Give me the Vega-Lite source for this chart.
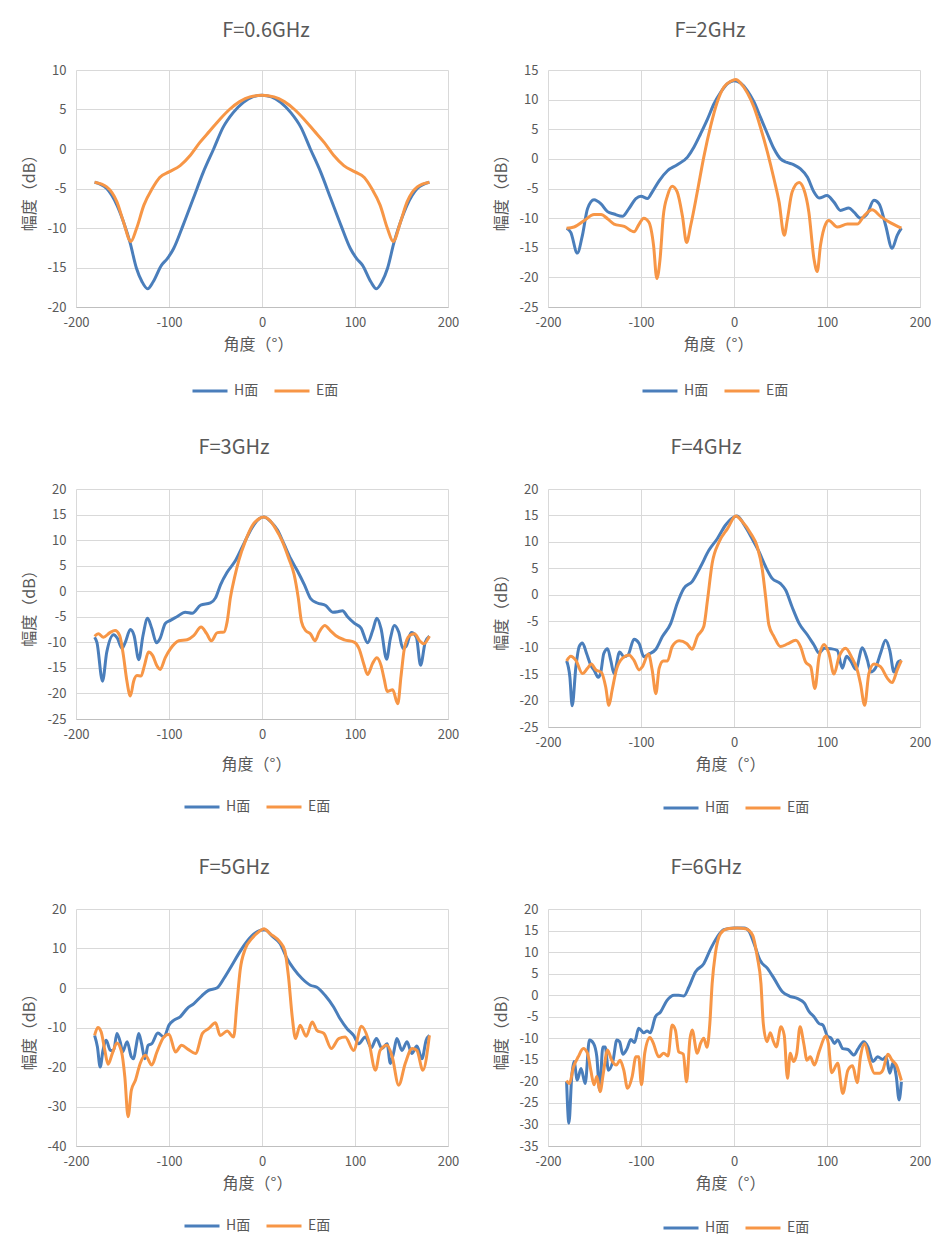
{
  "$schema": "https://vega.github.io/schema/vega-lite/v6.json",
  "background": "white",
  "padding": {"left": 21, "top": 21, "right": 0, "bottom": 0},
  "columns": 2,
  "spacing": {"row": 182, "column": 100},
  "bounds": "flush",
  "resolve": {"scale": {"color": "independent"}},
  "config": {
    "font": "Noto Sans CJK SC",
    "locale": {"number": {"decimal": ".", "thousands": ",", "grouping": [3], "currency": ["", ""], "minus": "-"}},
    "view": {"stroke": null},
    "line": {"strokeWidth": 3, "interpolate": "monotone"},
    "title": {"fontSize": 20, "fontWeight": "normal", "color": "#595959", "offset": 23, "anchor": "middle", "frame": "group"},
    "axis": {"gridColor": "#D9D9D9", "gridWidth": 1, "domain": false, "ticks": false, "tickSize": 0, "labelColor": "#595959", "labelFontSize": 13, "labelFlush": false, "titleColor": "#595959", "titleFontWeight": "normal"},
    "axisX": {"domain": true, "domainColor": "#BFBFBF", "labelPadding": 9, "titleFontSize": 16, "titlePadding": 7},
    "axisY": {"labelPadding": 10, "titleFontSize": 16, "titlePadding": 9, "minExtent": 30, "maxExtent": 30},
    "legend": {"orient": "none", "direction": "horizontal", "symbolType": "stroke", "symbolSize": 1225, "symbolStrokeWidth": 3, "labelFontSize": 14, "labelColor": "#595959", "labelOffset": 5, "columnPadding": 9, "padding": 0}
  },
  "datasets": {
    "p1": [
      {"s":"H面","a":-180,"v":-4.2},{"s":"H面","a":-167,"v":-5.0},{"s":"H面","a":-156,"v":-7.1},{"s":"H面","a":-149,"v":-9.2},{"s":"H面","a":-142,"v":-11.8},{"s":"H面","a":-135,"v":-15.1},{"s":"H面","a":-129,"v":-16.8},{"s":"H面","a":-123,"v":-17.7},{"s":"H面","a":-117,"v":-16.8},{"s":"H面","a":-108,"v":-14.7},{"s":"H面","a":-102,"v":-13.9},{"s":"H面","a":-95,"v":-12.6},{"s":"H面","a":-85,"v":-9.7},{"s":"H面","a":-74,"v":-6.3},{"s":"H面","a":-63,"v":-2.9},{"s":"H面","a":-52,"v":0},{"s":"H面","a":-42,"v":2.7},{"s":"H面","a":-31,"v":4.6},{"s":"H面","a":-20,"v":5.9},{"s":"H面","a":-10,"v":6.6},{"s":"H面","a":0,"v":6.8},
      {"s":"H面","a":10,"v":6.6},{"s":"H面","a":20,"v":5.9},{"s":"H面","a":31,"v":4.6},{"s":"H面","a":42,"v":2.7},{"s":"H面","a":52,"v":0},{"s":"H面","a":63,"v":-2.9},{"s":"H面","a":74,"v":-6.3},{"s":"H面","a":85,"v":-9.7},{"s":"H面","a":95,"v":-12.6},{"s":"H面","a":102,"v":-13.9},{"s":"H面","a":108,"v":-14.7},{"s":"H面","a":117,"v":-16.8},{"s":"H面","a":123,"v":-17.7},{"s":"H面","a":129,"v":-16.8},{"s":"H面","a":135,"v":-15.1},{"s":"H面","a":142,"v":-11.8},{"s":"H面","a":149,"v":-9.2},{"s":"H面","a":156,"v":-7.1},{"s":"H面","a":167,"v":-5.0},{"s":"H面","a":180,"v":-4.2},
      {"s":"E面","a":-180,"v":-4.2},{"s":"E面","a":-167,"v":-4.8},{"s":"E面","a":-156,"v":-6.7},{"s":"E面","a":-149,"v":-9.2},{"s":"E面","a":-141,"v":-11.7},{"s":"E面","a":-135,"v":-10.1},{"s":"E面","a":-127,"v":-7.1},{"s":"E面","a":-118,"v":-5.0},{"s":"E面","a":-110,"v":-3.6},{"s":"E面","a":-100,"v":-2.9},{"s":"E面","a":-88,"v":-2.1},{"s":"E面","a":-77,"v":-0.8},{"s":"E面","a":-67,"v":0.8},{"s":"E面","a":-56,"v":2.3},{"s":"E面","a":-45,"v":3.8},{"s":"E面","a":-35,"v":5.0},{"s":"E面","a":-24,"v":6.0},{"s":"E面","a":-13,"v":6.6},{"s":"E面","a":0,"v":6.8},
      {"s":"E面","a":13,"v":6.6},{"s":"E面","a":24,"v":6.0},{"s":"E面","a":35,"v":5.0},{"s":"E面","a":45,"v":3.8},{"s":"E面","a":56,"v":2.3},{"s":"E面","a":67,"v":0.8},{"s":"E面","a":77,"v":-0.8},{"s":"E面","a":88,"v":-2.1},{"s":"E面","a":100,"v":-2.9},{"s":"E面","a":110,"v":-3.6},{"s":"E面","a":118,"v":-5.0},{"s":"E面","a":127,"v":-7.1},{"s":"E面","a":135,"v":-10.1},{"s":"E面","a":141,"v":-11.7},{"s":"E面","a":149,"v":-9.2},{"s":"E面","a":156,"v":-6.7},{"s":"E面","a":167,"v":-4.8},{"s":"E面","a":180,"v":-4.2}
    ],
    "p2": [
      {"s":"H面","a":-180,"v":-11.7},{"s":"H面","a":-175.5,"v":-12.4},{"s":"H面","a":-168.5,"v":-15.9},{"s":"H面","a":-163,"v":-12.9},{"s":"H面","a":-157.5,"v":-8.4},{"s":"H面","a":-150.5,"v":-6.9},{"s":"H面","a":-143,"v":-7.6},{"s":"H面","a":-136,"v":-8.9},{"s":"H面","a":-129,"v":-9.3},{"s":"H面","a":-120,"v":-9.7},{"s":"H面","a":-113,"v":-8.4},{"s":"H面","a":-105.5,"v":-6.7},{"s":"H面","a":-100,"v":-6.3},{"s":"H面","a":-93,"v":-6.7},{"s":"H面","a":-88,"v":-5.6},{"s":"H面","a":-80.5,"v":-3.7},{"s":"H面","a":-71.5,"v":-2.0},{"s":"H面","a":-61,"v":-1.0},{"s":"H面","a":-50,"v":0.3},{"s":"H面","a":-43,"v":2.0},{"s":"H面","a":-36,"v":4.2},{"s":"H面","a":-28.5,"v":6.7},{"s":"H面","a":-21.5,"v":9.3},{"s":"H面","a":-14.5,"v":11.2},{"s":"H面","a":-7,"v":12.7},{"s":"H面","a":0,"v":13.2},{"s":"H面","a":7,"v":12.8},{"s":"H面","a":14.5,"v":11.5},{"s":"H面","a":21.5,"v":9.6},{"s":"H面","a":28.5,"v":7.0},{"s":"H面","a":36,"v":4.2},{"s":"H面","a":43,"v":1.7},{"s":"H面","a":50,"v":0},{"s":"H面","a":57,"v":-0.6},{"s":"H面","a":64.5,"v":-1.0},{"s":"H面","a":71.5,"v":-1.7},{"s":"H面","a":79,"v":-3.1},{"s":"H面","a":86,"v":-5.6},{"s":"H面","a":91.5,"v":-6.6},{"s":"H面","a":100,"v":-6.2},{"s":"H面","a":107.5,"v":-7.3},{"s":"H面","a":114.5,"v":-8.7},{"s":"H面","a":123.5,"v":-8.3},{"s":"H面","a":129,"v":-9.0},{"s":"H面","a":136,"v":-10.0},{"s":"H面","a":143,"v":-9.3},{"s":"H面","a":150.5,"v":-7.0},{"s":"H面","a":156,"v":-7.6},{"s":"H面","a":163,"v":-11.2},{"s":"H面","a":170,"v":-15.1},{"s":"H面","a":175.5,"v":-12.9},{"s":"H面","a":180,"v":-11.7},
      {"s":"E面","a":-180,"v":-11.7},{"s":"E面","a":-172,"v":-11.5},{"s":"E面","a":-161,"v":-10.4},{"s":"E面","a":-150.5,"v":-9.4},{"s":"E面","a":-143,"v":-9.4},{"s":"E面","a":-136,"v":-10.1},{"s":"E面","a":-129,"v":-11.0},{"s":"E面","a":-118,"v":-11.4},{"s":"E面","a":-107.5,"v":-12.3},{"s":"E面","a":-102,"v":-11.0},{"s":"E面","a":-97,"v":-10.0},{"s":"E面","a":-91.5,"v":-10.7},{"s":"E面","a":-86.5,"v":-14.6},{"s":"E面","a":-83,"v":-20.2},{"s":"E面","a":-79.5,"v":-16.9},{"s":"E面","a":-76,"v":-9.6},{"s":"E面","a":-71.5,"v":-6.2},{"s":"E面","a":-66.5,"v":-4.6},{"s":"E面","a":-61,"v":-5.6},{"s":"E面","a":-55.5,"v":-9.6},{"s":"E面","a":-51,"v":-14.1},{"s":"E面","a":-46.5,"v":-11.2},{"s":"E面","a":-39.5,"v":-5.6},{"s":"E面","a":-32.5,"v":0.3},{"s":"E面","a":-25,"v":5.6},{"s":"E面","a":-18,"v":9.6},{"s":"E面","a":-11,"v":12.1},{"s":"E面","a":-3.5,"v":13.1},{"s":"E面","a":2,"v":13.4},{"s":"E面","a":7,"v":12.8},{"s":"E面","a":14.5,"v":11.1},{"s":"E面","a":21.5,"v":8.7},{"s":"E面","a":28.5,"v":5.3},{"s":"E面","a":36,"v":1.1},{"s":"E面","a":43,"v":-3.4},{"s":"E面","a":48.5,"v":-7.3},{"s":"E面","a":54,"v":-12.9},{"s":"E面","a":57.5,"v":-10.1},{"s":"E面","a":62.5,"v":-5.6},{"s":"E面","a":70,"v":-4.0},{"s":"E面","a":75,"v":-5.1},{"s":"E面","a":80.5,"v":-9.0},{"s":"E面","a":86,"v":-16.9},{"s":"E面","a":89.5,"v":-19.0},{"s":"E面","a":93,"v":-14.6},{"s":"E面","a":98.5,"v":-11.0},{"s":"E面","a":102,"v":-10.4},{"s":"E面","a":111,"v":-11.5},{"s":"E面","a":122,"v":-11.0},{"s":"E面","a":132.5,"v":-11.0},{"s":"E面","a":140,"v":-9.6},{"s":"E面","a":148.5,"v":-8.6},{"s":"E面","a":157.5,"v":-9.7},{"s":"E面","a":168.5,"v":-10.8},{"s":"E面","a":180,"v":-11.7}
    ],
    "p3": [
      {"s":"H面","a":-180,"v":-9.0},{"s":"H面","a":-177.5,"v":-10.0},{"s":"H面","a":-171.5,"v":-17.6},{"s":"H面","a":-167,"v":-12.0},{"s":"H面","a":-159.5,"v":-8.5},{"s":"H面","a":-155.5,"v":-9.2},{"s":"H面","a":-150.5,"v":-11.2},{"s":"H面","a":-147,"v":-10.0},{"s":"H面","a":-141.5,"v":-7.5},{"s":"H面","a":-137.5,"v":-8.7},{"s":"H面","a":-132.5,"v":-13.4},{"s":"H面","a":-128,"v":-8.7},{"s":"H面","a":-123,"v":-5.3},{"s":"H面","a":-118.5,"v":-7.3},{"s":"H面","a":-113.5,"v":-10.1},{"s":"H面","a":-109.5,"v":-9.2},{"s":"H面","a":-104,"v":-6.3},{"s":"H面","a":-98.5,"v":-5.7},{"s":"H面","a":-91.5,"v":-5.0},{"s":"H面","a":-82.5,"v":-4.1},{"s":"H面","a":-75,"v":-4.3},{"s":"H面","a":-66,"v":-2.7},{"s":"H面","a":-55.5,"v":-2.3},{"s":"H面","a":-50,"v":-1.3},{"s":"H面","a":-44.5,"v":1.3},{"s":"H面","a":-37.5,"v":3.7},{"s":"H面","a":-28.5,"v":6.0},{"s":"H面","a":-19.5,"v":9.3},{"s":"H面","a":-10.5,"v":12.5},{"s":"H面","a":-3,"v":14.2},{"s":"H面","a":2,"v":14.5},{"s":"H面","a":9.5,"v":13.6},{"s":"H面","a":16.5,"v":12.0},{"s":"H面","a":23.5,"v":9.3},{"s":"H面","a":31,"v":6.3},{"s":"H面","a":38,"v":4.0},{"s":"H面","a":45.5,"v":1.3},{"s":"H面","a":52.5,"v":-1.5},{"s":"H面","a":59.5,"v":-2.3},{"s":"H面","a":68.5,"v":-2.8},{"s":"H面","a":76,"v":-4.1},{"s":"H面","a":81.5,"v":-4.0},{"s":"H面","a":86.5,"v":-3.8},{"s":"H面","a":92,"v":-5.0},{"s":"H面","a":99.5,"v":-6.3},{"s":"H面","a":106.5,"v":-7.2},{"s":"H面","a":113.5,"v":-10.1},{"s":"H面","a":119,"v":-7.7},{"s":"H面","a":123.5,"v":-5.3},{"s":"H面","a":128,"v":-7.3},{"s":"H面","a":134,"v":-13.3},{"s":"H面","a":138,"v":-9.3},{"s":"H面","a":142.5,"v":-6.7},{"s":"H面","a":147,"v":-8.0},{"s":"H面","a":151.5,"v":-11.2},{"s":"H面","a":155,"v":-10.8},{"s":"H面","a":160.5,"v":-8.1},{"s":"H面","a":166,"v":-9.0},{"s":"H面","a":170.5,"v":-14.5},{"s":"H面","a":175.5,"v":-10.0},{"s":"H面","a":180,"v":-8.8},
      {"s":"E面","a":-180,"v":-8.8},{"s":"E面","a":-176,"v":-8.3},{"s":"E面","a":-170.5,"v":-9.0},{"s":"E面","a":-163.5,"v":-8.1},{"s":"E面","a":-158,"v":-7.7},{"s":"E面","a":-153,"v":-8.7},{"s":"E面","a":-149,"v":-12.6},{"s":"E面","a":-145.5,"v":-17.3},{"s":"E面","a":-141.5,"v":-20.5},{"s":"E面","a":-138,"v":-17.6},{"s":"E面","a":-134.5,"v":-16.5},{"s":"E面","a":-130,"v":-16.6},{"s":"E面","a":-126.5,"v":-14.6},{"s":"E面","a":-122,"v":-11.9},{"s":"E面","a":-117.5,"v":-12.6},{"s":"E面","a":-113,"v":-14.6},{"s":"E面","a":-109.5,"v":-15.3},{"s":"E面","a":-104,"v":-13.0},{"s":"E面","a":-98.5,"v":-11.3},{"s":"E面","a":-89.5,"v":-9.7},{"s":"E面","a":-80.5,"v":-9.5},{"s":"E面","a":-73.5,"v":-8.7},{"s":"E面","a":-65.5,"v":-7.0},{"s":"E面","a":-59.5,"v":-8.3},{"s":"E面","a":-54.5,"v":-9.7},{"s":"E面","a":-48,"v":-8.1},{"s":"E面","a":-41,"v":-8.0},{"s":"E面","a":-37.5,"v":-6.0},{"s":"E面","a":-34,"v":-1.3},{"s":"E面","a":-29.5,"v":2.7},{"s":"E面","a":-25,"v":6.0},{"s":"E面","a":-17.5,"v":10.0},{"s":"E面","a":-10.5,"v":12.8},{"s":"E面","a":-3,"v":14.2},{"s":"E面","a":2,"v":14.5},{"s":"E面","a":7.5,"v":14.0},{"s":"E面","a":14.5,"v":12.3},{"s":"E面","a":22,"v":9.7},{"s":"E面","a":29,"v":6.3},{"s":"E面","a":34.5,"v":3.3},{"s":"E面","a":39,"v":-1.3},{"s":"E面","a":42.5,"v":-6.0},{"s":"E面","a":47,"v":-7.7},{"s":"E面","a":52,"v":-8.3},{"s":"E面","a":57,"v":-9.7},{"s":"E面","a":61.5,"v":-8.0},{"s":"E面","a":67.5,"v":-6.7},{"s":"E面","a":73.5,"v":-7.7},{"s":"E面","a":79.5,"v":-8.7},{"s":"E面","a":88.5,"v":-9.5},{"s":"E面","a":99.5,"v":-10.0},{"s":"E面","a":104.5,"v":-11.3},{"s":"E面","a":109.5,"v":-14.3},{"s":"E面","a":113.5,"v":-16.3},{"s":"E面","a":119,"v":-14.1},{"s":"E面","a":123.5,"v":-13.0},{"s":"E面","a":128,"v":-14.5},{"s":"E面","a":131.5,"v":-17.3},{"s":"E面","a":134.5,"v":-19.6},{"s":"E面","a":140.5,"v":-19.3},{"s":"E面","a":146,"v":-22.0},{"s":"E面","a":149.5,"v":-16.6},{"s":"E面","a":153,"v":-11.3},{"s":"E面","a":158.5,"v":-8.7},{"s":"E面","a":164,"v":-8.3},{"s":"E面","a":169.5,"v":-9.7},{"s":"E面","a":174,"v":-10.3},{"s":"E面","a":180,"v":-8.8}
    ],
    "p4": [
      {"s":"H面","a":-180,"v":-12.5},{"s":"H面","a":-176.5,"v":-15.5},{"s":"H面","a":-174,"v":-21.0},{"s":"H面","a":-170,"v":-13.6},{"s":"H面","a":-166.5,"v":-9.8},{"s":"H面","a":-163,"v":-9.1},{"s":"H面","a":-158.5,"v":-11.1},{"s":"H面","a":-154,"v":-13.3},{"s":"H面","a":-150,"v":-14.4},{"s":"H面","a":-146,"v":-15.6},{"s":"H面","a":-143.5,"v":-14.9},{"s":"H面","a":-140,"v":-11.1},{"s":"H面","a":-136,"v":-10.2},{"s":"H面","a":-132.5,"v":-12.4},{"s":"H面","a":-129,"v":-14.9},{"s":"H面","a":-123,"v":-10.8},{"s":"H面","a":-118.5,"v":-11.7},{"s":"H面","a":-114,"v":-11.4},{"s":"H面","a":-107.5,"v":-8.4},{"s":"H面","a":-102,"v":-9.2},{"s":"H面","a":-97,"v":-11.7},{"s":"H面","a":-91.5,"v":-11.2},{"s":"H面","a":-84,"v":-10.3},{"s":"H面","a":-77,"v":-7.9},{"s":"H面","a":-68,"v":-5.4},{"s":"H面","a":-61,"v":-1.6},{"s":"H面","a":-54,"v":1.2},{"s":"H面","a":-45,"v":2.5},{"s":"H面","a":-36,"v":5.3},{"s":"H面","a":-27,"v":8.4},{"s":"H面","a":-18,"v":10.6},{"s":"H面","a":-9,"v":13.2},{"s":"H面","a":0,"v":14.7},{"s":"H面","a":3.5,"v":14.9},{"s":"H面","a":11,"v":13.2},{"s":"H面","a":19.5,"v":10.6},{"s":"H面","a":27,"v":8.1},{"s":"H面","a":34,"v":5.3},{"s":"H面","a":41,"v":3.1},{"s":"H面","a":50,"v":2.1},{"s":"H面","a":55.5,"v":0.9},{"s":"H面","a":62.5,"v":-2.3},{"s":"H面","a":70,"v":-5.4},{"s":"H面","a":79,"v":-7.6},{"s":"H面","a":86,"v":-9.5},{"s":"H面","a":91.5,"v":-11.0},{"s":"H面","a":97,"v":-10.1},{"s":"H面","a":104,"v":-10.2},{"s":"H面","a":111,"v":-10.5},{"s":"H面","a":116.5,"v":-13.9},{"s":"H面","a":121,"v":-11.6},{"s":"H面","a":125.5,"v":-12.5},{"s":"H面","a":131,"v":-14.1},{"s":"H面","a":138,"v":-10.0},{"s":"H面","a":143.5,"v":-12.4},{"s":"H面","a":147,"v":-14.6},{"s":"H面","a":152,"v":-13.9},{"s":"H面","a":157.5,"v":-11.1},{"s":"H面","a":163,"v":-8.6},{"s":"H面","a":167.5,"v":-10.5},{"s":"H面","a":172,"v":-14.6},{"s":"H面","a":176.5,"v":-12.7},{"s":"H面","a":180,"v":-12.4},
      {"s":"E面","a":-180,"v":-12.5},{"s":"E面","a":-175.5,"v":-11.6},{"s":"E面","a":-170,"v":-12.4},{"s":"E面","a":-163,"v":-14.9},{"s":"E面","a":-157.5,"v":-13.9},{"s":"E面","a":-153.5,"v":-13.1},{"s":"E面","a":-148.5,"v":-14.2},{"s":"E面","a":-142.5,"v":-14.7},{"s":"E面","a":-138,"v":-17.4},{"s":"E面","a":-134.5,"v":-20.9},{"s":"E面","a":-131,"v":-18.0},{"s":"E面","a":-126.5,"v":-14.2},{"s":"E面","a":-120,"v":-12.0},{"s":"E面","a":-113,"v":-11.4},{"s":"E面","a":-107.5,"v":-12.4},{"s":"E面","a":-102,"v":-14.2},{"s":"E面","a":-98.5,"v":-13.6},{"s":"E面","a":-92,"v":-11.2},{"s":"E面","a":-88,"v":-14.2},{"s":"E面","a":-84,"v":-18.7},{"s":"E面","a":-80.5,"v":-13.9},{"s":"E面","a":-76,"v":-12.5},{"s":"E面","a":-71.5,"v":-12.5},{"s":"E面","a":-66.5,"v":-9.8},{"s":"E面","a":-59,"v":-8.7},{"s":"E面","a":-51,"v":-9.2},{"s":"E面","a":-45,"v":-10.3},{"s":"E面","a":-39.5,"v":-7.9},{"s":"E面","a":-32.5,"v":-6.0},{"s":"E面","a":-28.5,"v":-1.0},{"s":"E面","a":-23.5,"v":5.9},{"s":"E面","a":-16,"v":10.0},{"s":"E面","a":-7,"v":12.5},{"s":"E面","a":2,"v":14.9},{"s":"E面","a":9,"v":13.8},{"s":"E面","a":18,"v":11.6},{"s":"E面","a":25,"v":9.1},{"s":"E面","a":30.5,"v":4.7},{"s":"E面","a":34,"v":-0.4},{"s":"E面","a":37.5,"v":-5.7},{"s":"E面","a":43,"v":-7.9},{"s":"E面","a":50,"v":-9.8},{"s":"E面","a":57.5,"v":-9.3},{"s":"E面","a":66.5,"v":-8.6},{"s":"E面","a":71.5,"v":-9.8},{"s":"E面","a":77,"v":-12.7},{"s":"E面","a":82.5,"v":-13.6},{"s":"E面","a":87,"v":-17.7},{"s":"E面","a":91.5,"v":-11.7},{"s":"E面","a":97,"v":-9.4},{"s":"E面","a":102,"v":-11.1},{"s":"E面","a":107.5,"v":-15.0},{"s":"E面","a":113,"v":-11.7},{"s":"E面","a":120,"v":-10.1},{"s":"E面","a":127,"v":-12.0},{"s":"E面","a":132.5,"v":-14.2},{"s":"E面","a":136,"v":-16.8},{"s":"E面","a":140.5,"v":-20.9},{"s":"E面","a":145,"v":-14.9},{"s":"E面","a":150.5,"v":-13.1},{"s":"E面","a":157.5,"v":-13.6},{"s":"E面","a":165,"v":-15.8},{"s":"E面","a":170,"v":-16.6},{"s":"E面","a":175.5,"v":-14.2},{"s":"E面","a":180,"v":-12.4}
    ],
    "p5": [
      {"s":"H面","a":-180,"v":-12.0},{"s":"H面","a":-177,"v":-14.9},{"s":"H面","a":-174,"v":-20.0},{"s":"H面","a":-171,"v":-15.8},{"s":"H面","a":-167.5,"v":-13.2},{"s":"H面","a":-163,"v":-15.8},{"s":"H面","a":-159.5,"v":-15.8},{"s":"H面","a":-156,"v":-11.5},{"s":"H面","a":-152,"v":-14.1},{"s":"H面","a":-150,"v":-16.2},{"s":"H面","a":-145,"v":-13.6},{"s":"H面","a":-140.5,"v":-17.4},{"s":"H面","a":-138,"v":-17.9},{"s":"H面","a":-135.5,"v":-14.9},{"s":"H面","a":-132.5,"v":-11.5},{"s":"H面","a":-129.5,"v":-14.1},{"s":"H面","a":-126,"v":-17.9},{"s":"H面","a":-122.5,"v":-14.5},{"s":"H面","a":-118.5,"v":-14.1},{"s":"H面","a":-112,"v":-11.4},{"s":"H面","a":-105.5,"v":-12.4},{"s":"H面","a":-100,"v":-9.4},{"s":"H面","a":-95,"v":-8.2},{"s":"H面","a":-88,"v":-7.3},{"s":"H面","a":-80.5,"v":-5.2},{"s":"H面","a":-73.5,"v":-4.0},{"s":"H面","a":-64.5,"v":-1.9},{"s":"H面","a":-57.5,"v":-0.6},{"s":"H面","a":-48.5,"v":0},{"s":"H面","a":-41,"v":2.4},{"s":"H面","a":-32.5,"v":5.7},{"s":"H面","a":-25,"v":8.7},{"s":"H面","a":-18,"v":11.2},{"s":"H面","a":-9,"v":13.6},{"s":"H面","a":0,"v":14.7},{"s":"H面","a":3.5,"v":14.7},{"s":"H面","a":11,"v":13.1},{"s":"H面","a":19.5,"v":11.2},{"s":"H面","a":27,"v":7.4},{"s":"H面","a":34,"v":4.9},{"s":"H面","a":43,"v":2.4},{"s":"H面","a":52,"v":0.7},{"s":"H面","a":59,"v":0.2},{"s":"H面","a":68,"v":-1.9},{"s":"H面","a":77,"v":-4.8},{"s":"H面","a":84,"v":-7.8},{"s":"H面","a":91.5,"v":-10.3},{"s":"H面","a":98.5,"v":-12.0},{"s":"H面","a":104,"v":-14.1},{"s":"H面","a":111,"v":-12.4},{"s":"H面","a":117.5,"v":-15.1},{"s":"H面","a":123,"v":-12.8},{"s":"H面","a":129,"v":-15.3},{"s":"H面","a":134.5,"v":-14.1},{"s":"H面","a":138,"v":-19.1},{"s":"H面","a":141.5,"v":-16.4},{"s":"H面","a":145,"v":-12.8},{"s":"H面","a":150.5,"v":-15.8},{"s":"H面","a":156,"v":-13.6},{"s":"H面","a":161,"v":-16.6},{"s":"H面","a":166.5,"v":-14.7},{"s":"H面","a":172,"v":-17.9},{"s":"H面","a":176.5,"v":-13.2},{"s":"H面","a":180,"v":-12.0},
      {"s":"E面","a":-180,"v":-12.0},{"s":"E面","a":-176.5,"v":-10.0},{"s":"E面","a":-173,"v":-11.1},{"s":"E面","a":-169,"v":-15.8},{"s":"E面","a":-165.5,"v":-19.3},{"s":"E面","a":-161,"v":-16.6},{"s":"E面","a":-156,"v":-13.9},{"s":"E面","a":-151,"v":-16.2},{"s":"E面","a":-147.5,"v":-22.5},{"s":"E面","a":-144,"v":-32.6},{"s":"E面","a":-140.5,"v":-25.9},{"s":"E面","a":-136,"v":-23.3},{"s":"E面","a":-131,"v":-19.1},{"s":"E面","a":-125.5,"v":-17.0},{"s":"E面","a":-118.5,"v":-19.5},{"s":"E面","a":-113,"v":-16.2},{"s":"E面","a":-105.5,"v":-12.4},{"s":"E面","a":-100,"v":-11.7},{"s":"E面","a":-93,"v":-16.2},{"s":"E面","a":-86.5,"v":-14.5},{"s":"E面","a":-79,"v":-15.6},{"s":"E面","a":-71.5,"v":-16.6},{"s":"E面","a":-64,"v":-11.5},{"s":"E面","a":-57.5,"v":-10.3},{"s":"E面","a":-50,"v":-8.8},{"s":"E面","a":-45,"v":-12.0},{"s":"E面","a":-37.5,"v":-10.9},{"s":"E面","a":-30.5,"v":-12.4},{"s":"E面","a":-27,"v":-4.0},{"s":"E面","a":-23.5,"v":4.5},{"s":"E面","a":-18,"v":9.9},{"s":"E面","a":-11,"v":12.5},{"s":"E面","a":-3.5,"v":14.2},{"s":"E面","a":2,"v":15.0},{"s":"E面","a":9,"v":13.7},{"s":"E面","a":19.5,"v":11.6},{"s":"E面","a":24.5,"v":9.5},{"s":"E面","a":28.5,"v":2.8},{"s":"E面","a":32.5,"v":-7.3},{"s":"E面","a":36,"v":-12.8},{"s":"E面","a":41,"v":-9.4},{"s":"E面","a":47.5,"v":-12.2},{"s":"E面","a":54,"v":-8.6},{"s":"E面","a":59,"v":-10.7},{"s":"E面","a":66.5,"v":-11.5},{"s":"E面","a":74.5,"v":-15.3},{"s":"E面","a":82.5,"v":-12.8},{"s":"E面","a":89.5,"v":-12.4},{"s":"E面","a":98.5,"v":-15.8},{"s":"E面","a":107,"v":-9.7},{"s":"E面","a":114.5,"v":-13.2},{"s":"E面","a":122,"v":-20.8},{"s":"E面","a":127,"v":-15.8},{"s":"E面","a":134.5,"v":-14.5},{"s":"E面","a":140,"v":-17.4},{"s":"E面","a":147,"v":-24.6},{"s":"E面","a":154,"v":-19.1},{"s":"E面","a":161.5,"v":-15.3},{"s":"E面","a":166.5,"v":-15.8},{"s":"E面","a":173,"v":-20.8},{"s":"E面","a":180,"v":-12.0}
    ],
    "p6": [
      {"s":"H面","a":-180,"v":-20.1},{"s":"H面","a":-177.5,"v":-29.7},{"s":"H面","a":-174.5,"v":-18.9},{"s":"H面","a":-172,"v":-15.4},{"s":"H面","a":-168.5,"v":-19.7},{"s":"H面","a":-164.5,"v":-17.0},{"s":"H面","a":-160,"v":-20.5},{"s":"H面","a":-155.5,"v":-10.4},{"s":"H面","a":-151,"v":-11.2},{"s":"H面","a":-147.5,"v":-14.3},{"s":"H面","a":-144.5,"v":-22.0},{"s":"H面","a":-141,"v":-12.0},{"s":"H面","a":-138.5,"v":-12.0},{"s":"H面","a":-135,"v":-17.4},{"s":"H面","a":-130,"v":-15.1},{"s":"H面","a":-126,"v":-10.4},{"s":"H面","a":-123,"v":-10.8},{"s":"H面","a":-119.5,"v":-13.7},{"s":"H面","a":-115,"v":-12.4},{"s":"H面","a":-111,"v":-10.3},{"s":"H面","a":-107,"v":-11.0},{"s":"H面","a":-102.5,"v":-7.7},{"s":"H面","a":-97,"v":-8.7},{"s":"H面","a":-93.5,"v":-8.3},{"s":"H面","a":-90,"v":-8.7},{"s":"H面","a":-84.5,"v":-5.0},{"s":"H面","a":-79,"v":-3.9},{"s":"H面","a":-72,"v":-1.2},{"s":"H面","a":-64.5,"v":0},{"s":"H面","a":-59.5,"v":0},{"s":"H面","a":-54,"v":-0.2},{"s":"H面","a":-48.5,"v":1.9},{"s":"H面","a":-41.5,"v":5.4},{"s":"H面","a":-32.5,"v":7.3},{"s":"H面","a":-25,"v":10.8},{"s":"H面","a":-18,"v":13.5},{"s":"H面","a":-11,"v":15.2},{"s":"H面","a":0,"v":15.6},{"s":"H面","a":11,"v":15.6},{"s":"H面","a":16,"v":14.9},{"s":"H面","a":21.5,"v":12.0},{"s":"H面","a":28,"v":8.1},{"s":"H面","a":36,"v":6.2},{"s":"H面","a":43,"v":3.9},{"s":"H面","a":52,"v":0.8},{"s":"H面","a":59.5,"v":-0.2},{"s":"H面","a":68.5,"v":-0.8},{"s":"H面","a":75.5,"v":-1.8},{"s":"H面","a":81,"v":-3.9},{"s":"H面","a":86,"v":-5.0},{"s":"H面","a":91.5,"v":-6.6},{"s":"H面","a":95.5,"v":-6.9},{"s":"H面","a":100.5,"v":-9.5},{"s":"H面","a":104.5,"v":-10.0},{"s":"H面","a":108,"v":-11.2},{"s":"H面","a":111.5,"v":-10.4},{"s":"H面","a":117,"v":-12.4},{"s":"H面","a":122.5,"v":-12.6},{"s":"H面","a":129,"v":-13.9},{"s":"H面","a":133,"v":-12.6},{"s":"H面","a":139.5,"v":-10.8},{"s":"H面","a":144,"v":-12.0},{"s":"H面","a":149.5,"v":-15.4},{"s":"H面","a":154.5,"v":-14.3},{"s":"H面","a":160,"v":-14.9},{"s":"H面","a":163.5,"v":-14.3},{"s":"H面","a":167.5,"v":-18.1},{"s":"H面","a":171,"v":-15.7},{"s":"H面","a":174.5,"v":-18.9},{"s":"H面","a":177.5,"v":-24.3},{"s":"H面","a":180,"v":-20.1},
      {"s":"E面","a":-180,"v":-19.8},{"s":"E面","a":-177,"v":-20.5},{"s":"E面","a":-172.5,"v":-16.6},{"s":"E面","a":-167.5,"v":-14.3},{"s":"E面","a":-162,"v":-12.4},{"s":"E面","a":-157.5,"v":-13.5},{"s":"E面","a":-154,"v":-17.4},{"s":"E面","a":-150.5,"v":-20.8},{"s":"E面","a":-147.5,"v":-18.9},{"s":"E面","a":-144,"v":-22.4},{"s":"E面","a":-140.5,"v":-18.1},{"s":"E面","a":-136,"v":-12.7},{"s":"E面","a":-131.5,"v":-15.1},{"s":"E面","a":-126.5,"v":-16.2},{"s":"E面","a":-122.5,"v":-15.1},{"s":"E面","a":-118.5,"v":-17.4},{"s":"E面","a":-114.5,"v":-21.6},{"s":"E面","a":-109.5,"v":-18.9},{"s":"E面","a":-105.5,"v":-14.3},{"s":"E面","a":-102.5,"v":-14.3},{"s":"E面","a":-99.5,"v":-20.8},{"s":"E面","a":-96,"v":-13.5},{"s":"E面","a":-90.5,"v":-9.8},{"s":"E面","a":-87,"v":-11.0},{"s":"E面","a":-81,"v":-14.3},{"s":"E面","a":-75.5,"v":-13.5},{"s":"E面","a":-71,"v":-14.1},{"s":"E面","a":-66.5,"v":-6.9},{"s":"E面","a":-63,"v":-8.1},{"s":"E面","a":-59.5,"v":-13.1},{"s":"E面","a":-54.5,"v":-13.7},{"s":"E面","a":-51,"v":-20.1},{"s":"E面","a":-47.5,"v":-10.4},{"s":"E面","a":-45,"v":-8.1},{"s":"E面","a":-39.5,"v":-13.5},{"s":"E面","a":-36,"v":-11.2},{"s":"E面","a":-32.5,"v":-10.0},{"s":"E面","a":-29,"v":-12.1},{"s":"E面","a":-26,"v":-6.6},{"s":"E面","a":-23.5,"v":2.7},{"s":"E面","a":-20,"v":9.7},{"s":"E面","a":-14.5,"v":14.3},{"s":"E面","a":-7,"v":15.4},{"s":"E面","a":3.5,"v":15.6},{"s":"E面","a":12.5,"v":15.4},{"s":"E面","a":20,"v":13.9},{"s":"E面","a":25,"v":8.9},{"s":"E面","a":29,"v":2.7},{"s":"E面","a":31.5,"v":-6.6},{"s":"E面","a":35.5,"v":-10.8},{"s":"E面","a":39,"v":-8.7},{"s":"E面","a":42.5,"v":-10.8},{"s":"E面","a":45.5,"v":-12.0},{"s":"E面","a":50.5,"v":-7.3},{"s":"E面","a":54,"v":-9.3},{"s":"E面","a":57.5,"v":-19.3},{"s":"E面","a":60.5,"v":-13.5},{"s":"E面","a":64,"v":-15.4},{"s":"E面","a":67.5,"v":-13.5},{"s":"E面","a":71,"v":-7.3},{"s":"E面","a":75,"v":-11.2},{"s":"E面","a":78.5,"v":-15.1},{"s":"E面","a":82,"v":-14.3},{"s":"E面","a":86.5,"v":-16.2},{"s":"E面","a":91.5,"v":-13.1},{"s":"E面","a":99,"v":-9.5},{"s":"E面","a":101.5,"v":-11.2},{"s":"E面","a":105,"v":-18.0},{"s":"E面","a":111.5,"v":-15.8},{"s":"E面","a":117,"v":-22.8},{"s":"E面","a":122.5,"v":-17.4},{"s":"E面","a":127.5,"v":-16.4},{"s":"E面","a":132.5,"v":-20.3},{"s":"E面","a":136,"v":-14.3},{"s":"E面","a":140.5,"v":-11.2},{"s":"E面","a":145.5,"v":-15.1},{"s":"E面","a":151,"v":-18.1},{"s":"E面","a":156.5,"v":-18.1},{"s":"E面","a":160,"v":-17.4},{"s":"E面","a":165.5,"v":-13.7},{"s":"E面","a":170,"v":-15.1},{"s":"E面","a":174.5,"v":-16.2},{"s":"E面","a":180,"v":-19.8}
    ]
  },
  "concat": [
    {
      "title": {"text": "F=0.6GHz", "dx": 4},
      "width": 372, "height": 237,
      "data": {"name": "p1"},
      "mark": "line",
      "encoding": {
        "x": {"field": "a", "type": "quantitative", "scale": {"domain": [-200, 200], "nice": false}, "axis": {"values": [-200, -100, 0, 100, 200], "title": "角度（°）", "titleX": 182}},
        "y": {"field": "v", "type": "quantitative", "scale": {"domain": [-20, 10], "nice": false, "zero": false}, "axis": {"values": [-20, -15, -10, -5, 0, 5, 10], "title": "幅度（dB）"}},
        "color": {"field": "s", "type": "nominal", "scale": {"domain": ["H面", "E面"], "range": ["#4A7EBB", "#F79646"]}, "legend": {"title": null, "legendX": 115, "legendY": 302}}
      }
    },
    {
      "title": {"text": "F=2GHz", "dx": -24},
      "width": 372, "height": 237,
      "data": {"name": "p2"},
      "mark": "line",
      "encoding": {
        "x": {"field": "a", "type": "quantitative", "scale": {"domain": [-200, 200], "nice": false}, "axis": {"values": [-200, -100, 0, 100, 200], "title": "角度（°）", "titleX": 170}},
        "y": {"field": "v", "type": "quantitative", "scale": {"domain": [-25, 15], "nice": false, "zero": false}, "axis": {"values": [-25, -20, -15, -10, -5, 0, 5, 10, 15], "title": "幅度（dB）"}},
        "color": {"field": "s", "type": "nominal", "scale": {"domain": ["H面", "E面"], "range": ["#4A7EBB", "#F79646"]}, "legend": {"title": null, "legendX": 93, "legendY": 302}}
      }
    },
    {
      "title": {"text": "F=3GHz", "dx": -28, "offset": 25},
      "width": 372, "height": 230,
      "data": {"name": "p3"},
      "mark": "line",
      "encoding": {
        "x": {"field": "a", "type": "quantitative", "scale": {"domain": [-200, 200], "nice": false}, "axis": {"values": [-200, -100, 0, 100, 200], "title": "角度（°）", "titleX": 180, "titlePadding": 15}},
        "y": {"field": "v", "type": "quantitative", "scale": {"domain": [-25, 20], "nice": false, "zero": false}, "axis": {"values": [-25, -20, -15, -10, -5, 0, 5, 10, 15, 20], "title": "幅度（dB）"}},
        "color": {"field": "s", "type": "nominal", "scale": {"domain": ["H面", "E面"], "range": ["#4A7EBB", "#F79646"]}, "legend": {"title": null, "legendX": 107, "legendY": 299}}
      }
    },
    {
      "title": {"text": "F=4GHz", "dx": -28, "offset": 25},
      "width": 372, "height": 238,
      "data": {"name": "p4"},
      "mark": "line",
      "encoding": {
        "x": {"field": "a", "type": "quantitative", "scale": {"domain": [-200, 200], "nice": false}, "axis": {"values": [-200, -100, 0, 100, 200], "title": "角度（°）", "titleX": 182}},
        "y": {"field": "v", "type": "quantitative", "scale": {"domain": [-25, 20], "nice": false, "zero": false}, "axis": {"values": [-25, -20, -15, -10, -5, 0, 5, 10, 15, 20], "title": "幅度（dB）"}},
        "color": {"field": "s", "type": "nominal", "scale": {"domain": ["H面", "E面"], "range": ["#4A7EBB", "#F79646"]}, "legend": {"title": null, "legendX": 114, "legendY": 300}}
      }
    },
    {
      "title": {"text": "F=5GHz", "dx": -28, "offset": 25},
      "width": 372, "height": 237,
      "data": {"name": "p5"},
      "mark": "line",
      "encoding": {
        "x": {"field": "a", "type": "quantitative", "scale": {"domain": [-200, 200], "nice": false}, "axis": {"values": [-200, -100, 0, 100, 200], "title": "角度（°）", "titleX": 181}},
        "y": {"field": "v", "type": "quantitative", "scale": {"domain": [-40, 20], "nice": false, "zero": false}, "axis": {"values": [-40, -30, -20, -10, 0, 10, 20], "title": "幅度（dB）"}},
        "color": {"field": "s", "type": "nominal", "scale": {"domain": ["H面", "E面"], "range": ["#4A7EBB", "#F79646"]}, "legend": {"title": null, "legendX": 107, "legendY": 298}}
      }
    },
    {
      "title": {"text": "F=6GHz", "dx": -28, "offset": 25},
      "width": 372, "height": 237,
      "data": {"name": "p6"},
      "mark": "line",
      "encoding": {
        "x": {"field": "a", "type": "quantitative", "scale": {"domain": [-200, 200], "nice": false}, "axis": {"values": [-200, -100, 0, 100, 200], "title": "角度（°）", "titleX": 182}},
        "y": {"field": "v", "type": "quantitative", "scale": {"domain": [-35, 20], "nice": false, "zero": false}, "axis": {"values": [-35, -30, -25, -20, -15, -10, -5, 0, 5, 10, 15, 20], "title": "幅度（dB）"}},
        "color": {"field": "s", "type": "nominal", "scale": {"domain": ["H面", "E面"], "range": ["#4A7EBB", "#F79646"]}, "legend": {"title": null, "legendX": 114, "legendY": 300}}
      }
    }
  ]
}
